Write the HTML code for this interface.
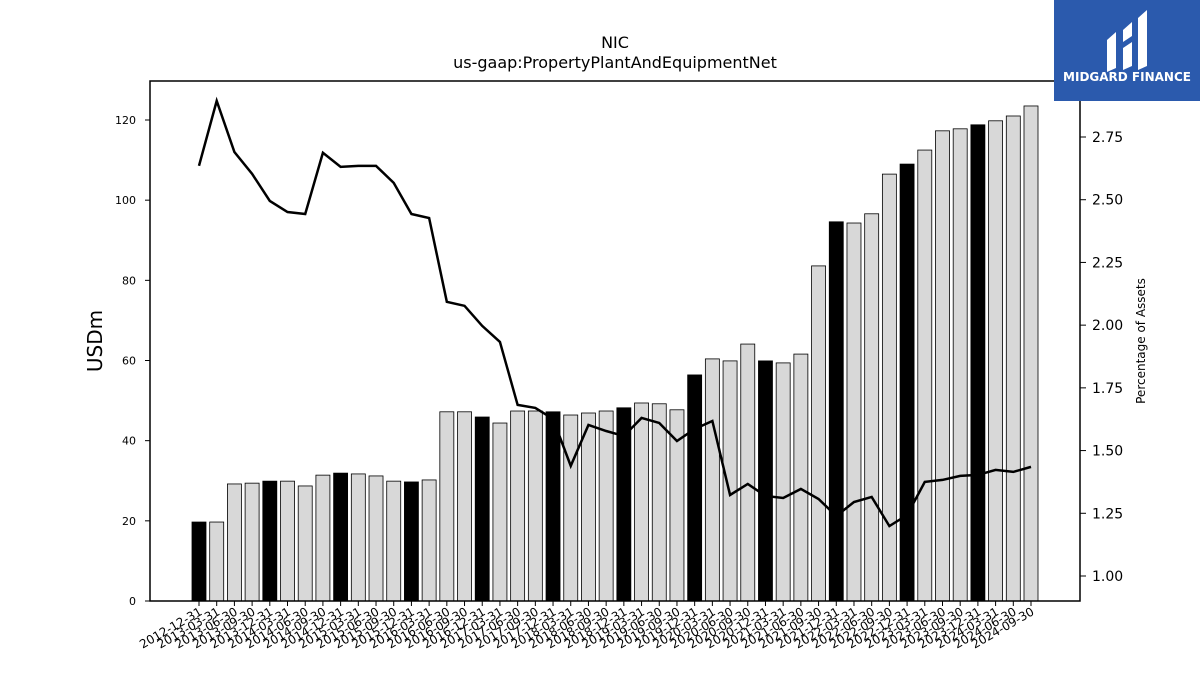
<!DOCTYPE html>
<html><head><meta charset="utf-8"><style>
body{margin:0;background:#fff;}
svg text{font-family:"DejaVu Sans","Liberation Sans",sans-serif;}
</style></head><body>
<svg id="chart" width="1200" height="675" xmlns="http://www.w3.org/2000/svg">
<rect width="1200" height="675" fill="#fff"/>
<text x="615" y="48" text-anchor="middle" font-size="16">NIC</text>
<text x="615" y="68" text-anchor="middle" font-size="16">us-gaap:PropertyPlantAndEquipmentNet</text>
<g id="bars"></g>
<g id="xaxis"></g>
<g id="yaxis"></g>
<g id="y2axis"></g>
<path id="line" fill="none" stroke="#000" stroke-width="2.5"/>
<rect x="150" y="81" width="930" height="520" fill="none" stroke="#000" stroke-width="1.5"/>
<text transform="translate(102,341) rotate(-90)" text-anchor="middle" font-size="20">USDm</text>
<text transform="translate(1145,341) rotate(-90)" text-anchor="middle" font-size="12">Percentage of Assets</text>
<g>
<rect x="1054" y="0" width="146" height="101" fill="#2b5aad"/>
<path d="M1107 40 L1116 32 L1116 68 L1107 72 Z M1123 30 L1132 22 L1132 36 L1123 42 Z M1123 48 L1132 42 L1132 66 L1123 70 Z M1138 18 L1147 10 L1147 66 L1138 70 Z" fill="#fff"/>
<text x="1127" y="81" text-anchor="middle" font-size="12" font-weight="bold" fill="#fff">MIDGARD FINANCE</text>
</g>
</svg>
<script>
const dates=["2012-12-31","2013-03-31","2013-06-30","2013-09-30","2013-12-31","2014-03-31","2014-06-30","2014-09-30","2014-12-31","2015-03-31","2015-06-30","2015-09-30","2015-12-31","2016-03-31","2016-06-30","2016-09-30","2016-12-31","2017-03-31","2017-06-30","2017-09-30","2017-12-31","2018-03-31","2018-06-30","2018-09-30","2018-12-31","2019-03-31","2019-06-30","2019-09-30","2019-12-31","2020-03-31","2020-06-30","2020-09-30","2020-12-31","2021-03-31","2021-06-30","2021-09-30","2021-12-31","2022-03-31","2022-06-30","2022-09-30","2022-12-31","2023-03-31","2023-06-30","2023-09-30","2023-12-31","2024-03-31","2024-06-30","2024-09-30"];
const ppe=[19.7,19.7,29.2,29.4,29.9,29.9,28.7,31.4,31.9,31.7,31.2,29.9,29.7,30.2,47.2,47.2,45.9,44.4,47.4,47.4,47.2,46.4,46.9,47.4,48.2,49.4,49.2,47.7,56.4,60.4,59.9,64.1,59.9,59.4,61.6,83.6,94.6,94.3,96.6,106.5,109.0,112.5,117.3,117.8,118.8,119.8,121.0,123.5];
const pct=[2.635,2.894,2.69,2.603,2.495,2.451,2.443,2.687,2.631,2.635,2.635,2.567,2.443,2.427,2.093,2.077,1.997,1.933,1.682,1.670,1.626,1.439,1.602,1.578,1.558,1.630,1.610,1.538,1.586,1.618,1.323,1.367,1.319,1.311,1.347,1.307,1.239,1.295,1.315,1.199,1.243,1.375,1.383,1.399,1.403,1.423,1.415,1.435];
const yTicks=[0,20,40,60,80,100,120];
const y2Ticks=[1.00,1.25,1.50,1.75,2.00,2.25,2.50,2.75];
const NS="http://www.w3.org/2000/svg";
const xs=i=>199+i*(1031-199)/(dates.length-1);
const y=v=>601-v*(601-120)/120;
const y2=v=>576-(v-1)*(576-137)/1.75;
function mk(tag,attrs,parent){const e=document.createElementNS(NS,tag);for(const k in attrs)e.setAttribute(k,attrs[k]);parent.appendChild(e);return e;}
const bars=document.getElementById('bars'),xa=document.getElementById('xaxis'),ya=document.getElementById('yaxis'),y2a=document.getElementById('y2axis');
ppe.forEach((v,i)=>{
  const q4=dates[i].endsWith("12-31");
  const r=mk('rect',{x:xs(i)-7,y:y(v),width:14,height:y(0)-y(v),fill:q4?'#000':'#d8d8d8',stroke:'#000','stroke-width':0.8},bars);
  
  
  mk('line',{x1:xs(i),x2:xs(i),y1:601,y2:606,stroke:'#000'},xa);
  const t=mk('text',{x:xs(i)+4,y:614,'font-size':12,'text-anchor':'end',transform:`rotate(-30 ${xs(i)+4} 614)`},xa);
  t.textContent=dates[i];
  
  
});
yTicks.forEach(v=>{
  mk('line',{x1:145,x2:150,y1:y(v),y2:y(v),stroke:'#000'},ya);
  const t=mk('text',{x:136,y:y(v)+4,'font-size':11,'text-anchor':'end'},ya);
  t.textContent=v;
  
  
});
y2Ticks.forEach(v=>{
  mk('line',{x1:1080,x2:1086,y1:y2(v),y2:y2(v),stroke:'#000'},y2a);
  const t=mk('text',{x:1092,y:y2(v)+5,'font-size':14},y2a);
  t.textContent=v.toFixed(2);
  
  
});
document.getElementById('line').setAttribute('d',pct.map((v,i)=>(i?'L':'M')+xs(i)+' '+y2(v)).join(' '));
</script>
</body></html>
